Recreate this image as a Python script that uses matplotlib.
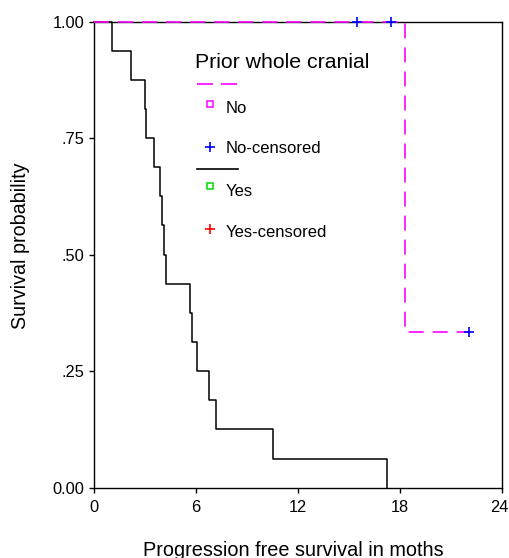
import matplotlib
matplotlib.use("Agg")
import matplotlib.pyplot as plt
import matplotlib.transforms as mtransforms
from matplotlib.lines import Line2D

plt.rcParams['font.family'] = ['Liberation Sans', 'DejaVu Sans']
plt.rcParams['lines.scale_dashes'] = False

# Data
yes_times = [0, 1.06, 2.18, 3.03, 3.09, 3.52, 3.91, 4.01, 4.15, 4.27,
             5.64, 5.80, 6.08, 6.80, 7.18, 10.54, 17.25]
yes_surv = [1.0, 0.9375, 0.875, 0.8125, 0.75, 0.6875, 0.625, 0.5625, 0.5,
            0.4375, 0.375, 0.3125, 0.25, 0.1875, 0.125, 0.0625, 0.0]
no_times = [0, 18.33, 22.07]
no_surv = [1.0, 0.3333, 0.3333]
no_cens_times = [15.47, 17.48, 22.07]
no_cens_surv = [1.0, 1.0, 0.3333]

xticks = [0, 6, 12, 18, 24]
yticks = [0.0, 0.25, 0.5, 0.75, 1.0]
ytick_labels = ["0.00", ".25", ".50", ".75", "1.00"]

W, H = 509, 558
fig = plt.figure(figsize=(W / 100, H / 100), dpi=100)
ax = fig.add_axes([93.7 / W, 1 - 487.7 / H, (501.7 - 93.7) / W, (487.7 - 21.5) / H])

dash = (10.8, 6.5)
ax.step(yes_times, yes_surv, where='post', color='black', lw=1.1,
        zorder=4, clip_on=False)
ax.step(no_times, no_surv, where='post', color='#ff00ff', lw=1.2,
        dashes=dash, zorder=5, clip_on=False)
ax.plot(no_cens_times, no_cens_surv, ls='none', marker='+', ms=7, mew=1.2,
        color='#0000ff', zorder=6, clip_on=False)

ax.set_xlim(0, 24)
ax.set_ylim(0, 1)
ax.set_xticks(xticks)
ax.set_xticklabels([str(t) for t in xticks])
ax.set_yticks(yticks)
ax.set_yticklabels(ytick_labels)
ax.tick_params(direction='out', length=3.6, width=1.0, labelsize=11.8,
               colors='black', pad=3)
ax.tick_params(axis='x', pad=5.5)
for s in ax.spines.values():
    s.set_linewidth(1.0)
    s.set_color('black')

# nudge the last x tick label so it stays inside the image
last = ax.get_xticklabels()[-1]
last.set_transform(last.get_transform() +
                   mtransforms.ScaledTranslation(-2.6 / 100, 0, fig.dpi_scale_trans))

ax.set_xlabel("Progression free survival in moths", fontsize=14.3, va='center')
ax.xaxis.set_label_coords((293.3 - 93.7) / 408.0, (487.7 - 550) / 466.2)
ax.set_ylabel("Survival probability", fontsize=14.2, va='center')
ax.yaxis.set_label_coords((21 - 93.7) / 408.0, (487.7 - 245.8) / 466.2)

# Legend drawn manually (figure pixel positions)
def fx(px):
    return px / W

def fy(py):
    return 1 - py / H

fig.text(fx(195), fy(68.3), "Prior whole cranial", fontsize=15.3,
         va='baseline', ha='left')
fig.add_artist(Line2D([fx(197.3), fx(238.3)], [fy(84.3), fy(84.3)],
                      color='#ff00ff', lw=1.2, dashes=(11.5, 5.8),
                      transform=fig.transFigure))
fig.add_artist(Line2D([fx(210)], [fy(104)], marker='s', ms=4.6, mfc='none',
                      mec='#ff00ff', mew=1.1, ls='none',
                      transform=fig.transFigure))
fig.text(fx(226), fy(112.7), "No", fontsize=12, va='baseline', ha='left')
fig.add_artist(Line2D([fx(210)], [fy(146.7)], marker='+', ms=7, mew=1.2,
                      color='#0000ff', ls='none', transform=fig.transFigure))
fig.text(fx(226), fy(153.3), "No-censored", fontsize=12, va='baseline', ha='left')
fig.add_artist(Line2D([fx(197.3), fx(238.3)], [fy(169.3), fy(169.3)],
                      color='black', lw=1.2, transform=fig.transFigure))
fig.add_artist(Line2D([fx(210)], [fy(186)], marker='s', ms=4.6, mfc='none',
                      mec='#00dd00', mew=1.1, ls='none',
                      transform=fig.transFigure))
fig.text(fx(226), fy(196), "Yes", fontsize=12, va='baseline', ha='left')
fig.add_artist(Line2D([fx(210)], [fy(229.3)], marker='+', ms=7, mew=1.2,
                      color='#ff0000', ls='none', transform=fig.transFigure))
fig.text(fx(226), fy(236.7), "Yes-censored", fontsize=12, va='baseline', ha='left')

fig.savefig("out.png", dpi=100)
